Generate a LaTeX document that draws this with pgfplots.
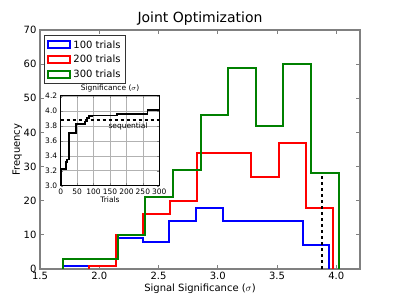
\documentclass[border=0pt]{standalone}
\usepackage{fontspec}
\setmainfont{DejaVu Sans}
\usepackage{pgfplots}
\pgfplotsset{compat=1.18}
\definecolor{mgreen}{rgb}{0,0.5,0}
\definecolor{spinegray}{rgb}{0.5,0.5,0.5}
\begin{document}
\begin{tikzpicture}
\path[use as bounding box] (-40pt,-31pt) rectangle (360pt,269pt);
\begin{axis}[
  at={(0pt,0pt)}, anchor=south west,
  scale only axis, width=320pt, height=239pt,
  xmin=1.5, xmax=4.2, ymin=0, ymax=70,
  xtick={1.5,2.0,2.5,3.0,3.5,4.0},
  ytick={0,10,20,30,40,50,60,70},
  xticklabel style={/pgf/number format/fixed, /pgf/number format/fixed zerofill, /pgf/number format/precision=1},
  /pgf/number format/assume math mode=true,
  tick label style={font=\fontsize{10}{12}\selectfont},
  tick align=inside,
  major tick length=4pt,
  axis line style={spinegray, line width=1.5pt},
  tick style={spinegray, line width=0.8pt},
  title={\fontsize{14}{16}\selectfont Joint Optimization},
  title style={yshift=-5pt},
  xlabel={\fontsize{10}{12}\selectfont Signal Significance ($\sigma$)},
  ylabel={\fontsize{10}{12}\selectfont Frequency},
  xlabel style={yshift=3pt},
  ylabel style={yshift=-5pt},
  legend style={at={(rel axis cs:0.0125,0.979)}, anchor=north west, draw=black!80, line width=0.8pt, font=\fontsize{10}{12}\selectfont, row sep=1.5pt, inner xsep=3pt, inner ysep=3pt, cells={anchor=west}},
  legend image code/.code={\draw[#1] (0pt,-3.5pt) -- (22pt,-3.5pt) -- (22pt,3.5pt) -- (0pt,3.5pt) -- cycle;},
  every axis plot/.append style={line width=2pt, line join=miter},
]
\addplot[draw=blue, sharp plot] coordinates {
(1.69,0) (1.69,1) (1.915,1) (1.915,1) (2.14,1) (2.14,9) (2.365,9) (2.365,8) (2.59,8) (2.59,14) (2.815,14) (2.815,18) (3.04,18) (3.04,14) (3.265,14) (3.49,14) (3.715,14) (3.715,7) (3.94,7) (3.94,0)};
\addlegendentry{100 trials}
\addplot[draw=red, sharp plot] coordinates {
(1.91,0) (1.91,1) (2.139,1) (2.139,10) (2.368,10) (2.368,16) (2.597,16) (2.597,20) (2.826,20) (2.826,34) (3.055,34) (3.284,34) (3.284,27) (3.513,27) (3.513,37) (3.742,37) (3.742,18) (3.971,18) (3.971,0)};
\addlegendentry{200 trials}
\addplot[draw=mgreen, sharp plot] coordinates {
(1.69,0) (1.69,3) (1.923,3) (2.156,3) (2.156,10) (2.389,10) (2.389,21) (2.622,21) (2.622,29) (2.855,29) (2.855,45) (3.088,45) (3.088,59) (3.321,59) (3.321,42) (3.554,42) (3.554,60) (3.787,60) (3.787,28) (4.02,28) (4.02,0)};
\addlegendentry{300 trials}
\addplot[draw=black, line width=1.5pt, dashed, forget plot] coordinates {(3.88,0) (3.88,28)};
\end{axis}
\begin{axis}[
  at={(20.7pt,83.3pt)}, anchor=south west,
  scale only axis, width=98.6pt, height=89.7pt,
  xmin=0, xmax=300, ymin=3.0, ymax=4.2,
  xtick={0,50,100,150,200,250,300},
  ytick={3.0,3.2,3.4,3.6,3.8,4.0,4.2},
  yticklabel style={/pgf/number format/fixed, /pgf/number format/fixed zerofill, /pgf/number format/precision=1},
  /pgf/number format/assume math mode=true,
  tick label style={font=\fontsize{7.5}{9}\selectfont},
  xticklabel style={inner xsep=0pt},
  grid=major,
  major grid style={gray!60, line width=0.5pt},
  tick align=inside,
  major tick length=2.5pt,
  axis line style={black, line width=1pt},
  axis background/.style={fill=white},
  title={\fontsize{7.5}{9}\selectfont Significance ($\sigma$)},
  title style={yshift=-6pt},
  xlabel={\fontsize{7.5}{9}\selectfont Trials},
  xlabel style={yshift=5pt},
  every axis plot/.append style={line width=1.8pt, line join=miter},
]
\addplot[draw=black, sharp plot] coordinates {
(0,3.0) (0,3.22) (16,3.22) (16,3.32) (20,3.32) (20,3.35) (26,3.35) (26,3.70) (46,3.70) (46,3.83) (74,3.83) (74,3.86) (80,3.86) (80,3.91) (86,3.91) (86,3.93) (97,3.93) (97,3.94) (172,3.94) (172,3.96) (264,3.96) (264,4.01) (300,4.01)};
\addplot[draw=black, line width=1.5pt, dashed] coordinates {(0,3.88) (300,3.88)};
\node[font=\fontsize{7.5}{9}\selectfont] at (axis cs:205,3.79) {sequential};
\end{axis}
\end{tikzpicture}
\end{document}
